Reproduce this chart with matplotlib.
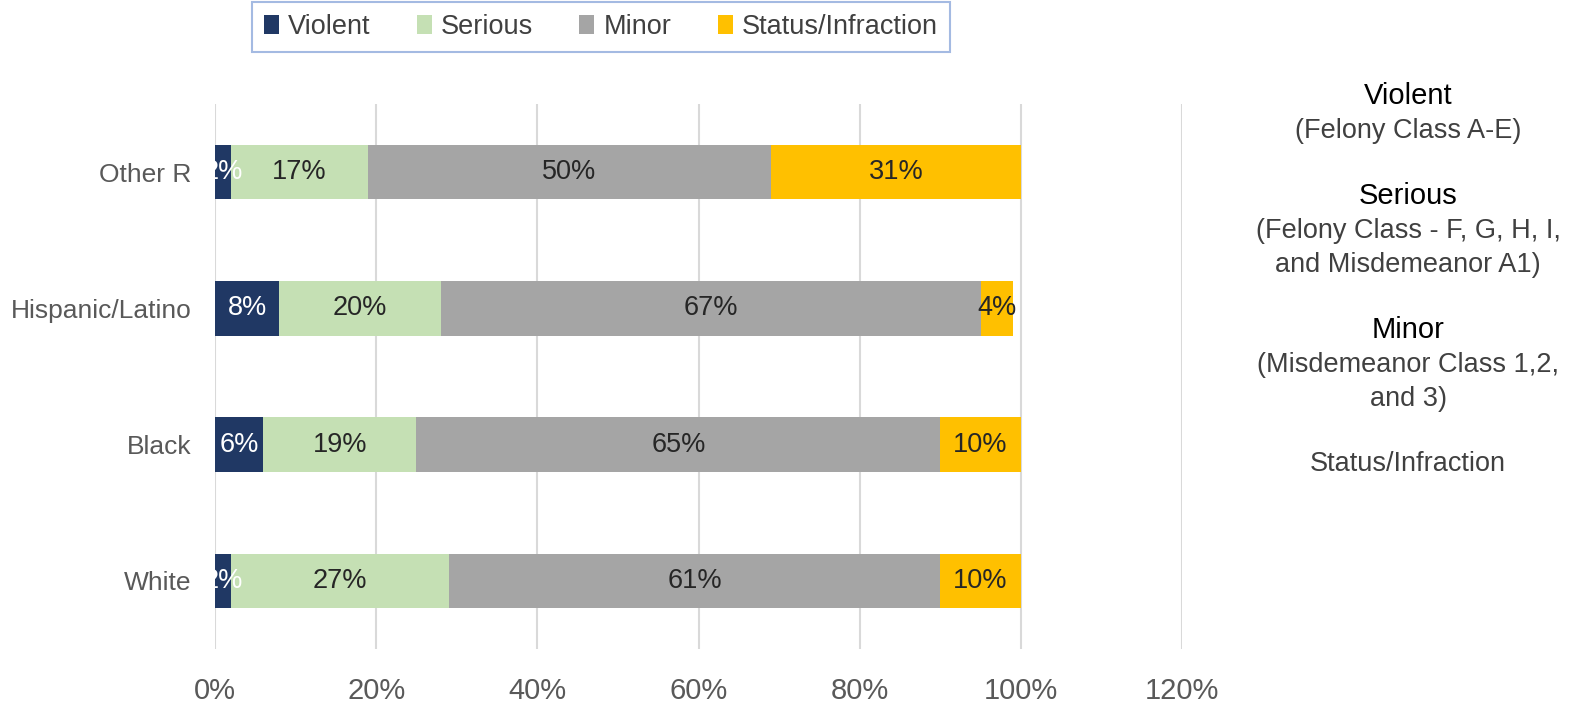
import matplotlib.pyplot as plt
import numpy as np

plt.rcParams['font.family'] = ['Liberation Sans', 'DejaVu Sans']

groups = ['White', 'Black', 'Hispanic/Latino', 'Other R']
violent = [2, 6, 8, 2]
serious = [27, 19, 20, 17]
minor = [61, 65, 67, 50]
status = [10, 10, 4, 31]

series = [
    ('Violent', violent, '#203864', 'white'),
    ('Serious', serious, '#C5E0B4', '#262626'),
    ('Minor', minor, '#A5A5A5', '#262626'),
    ('Status/Infraction', status, '#FFC000', '#262626'),
]

notes = [
    ('Violent', ['(Felony Class A-E)']),
    ('Serious', ['(Felony Class - F, G, H, I,', 'and Misdemeanor A1)']),
    ('Minor', ['(Misdemeanor Class 1,2,', 'and 3)']),
    ('', ['Status/Infraction']),
]

W, H = 1573, 703
fig = plt.figure(figsize=(W / 100, H / 100), dpi=100)
ax = fig.add_axes([215 / W, 1 - 649 / H, 967 / W, 545 / H])

y = np.arange(len(groups))
left = np.zeros(len(groups))
handles = []
for name, vals, color, tcol in series:
    vals = np.array(vals, dtype=float)
    b = ax.barh(y, vals, left=left, height=0.4, color=color, label=name, zorder=3)
    handles.append(b)
    for yi, l, v in zip(y, left, vals):
        ax.text(l + v / 2, yi, f'{int(v)}%', ha='center', va='center',
                color=tcol, fontsize=19.5, zorder=4)
    left += vals

ax.set_xlim(0, 120)
ax.set_ylim(-0.5, 3.5)
ax.set_xticks(np.arange(0, 121, 20))
ax.set_xticklabels([f'{t}%' for t in range(0, 121, 20)])
ax.set_yticks(y)
ax.set_yticklabels(groups)
ax.tick_params(axis='x', labelsize=21, colors='#595959', length=0, pad=20)
ax.tick_params(axis='y', labelsize=19, colors='#595959', length=0, pad=17)
ax.grid(axis='x', color='#D9D9D9', linewidth=1.5, zorder=0)
for s in ax.spines.values():
    s.set_visible(False)

leg = fig.legend(handles=handles, loc='upper center', bbox_to_anchor=(601 / W, 1 - 2 / H),
                 ncol=4, fontsize=19.5, frameon=True, fancybox=False, borderaxespad=0,
                 handlelength=0.55, handleheight=0.7, handletextpad=0.35,
                 columnspacing=1.7, borderpad=0.45, labelcolor='#404040')
leg.get_frame().set_edgecolor('#8EA9DB')
leg.get_frame().set_linewidth(1.5)

# category notes on the right
cx = 1408 / W
ypx = 96
for head, desc in notes:
    if head:
        fig.text(cx, 1 - ypx / H, head, ha='center', va='center', fontsize=21, color='black')
        ypx += 35
    for line in desc:
        fig.text(cx, 1 - ypx / H, line, ha='center', va='center', fontsize=19.5, color='#404040')
        ypx += 34
    ypx += 31

fig.savefig('out.png', dpi=100)
